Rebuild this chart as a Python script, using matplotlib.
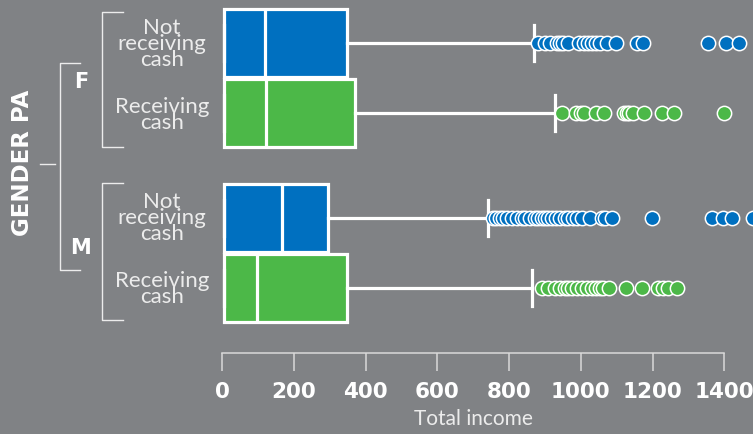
import matplotlib

matplotlib.use("Agg")

import matplotlib.pyplot as plt

# ---- data ----
group_labels = ["Not\nreceiving\ncash", "Receiving\ncash", "Not\nreceiving\ncash", "Receiving\ncash"]
gender_labels = ["F", "M"]
positions = [0, 1, 2.5, 3.5]

q1 = [5, 5, 5, 5]
medians = [120, 122, 166, 98]
q3 = [347, 371, 296, 348]
whisker_hi = [870, 928, 740, 865]

fliers_f_not = [882, 900, 914, 933, 942, 949, 965, 995, 1008, 1020, 1030, 1042,
                1053, 1074, 1098, 1156, 1172, 1355, 1406, 1441]
fliers_f_rec = [947, 988, 1000, 1010, 1042, 1065, 1120, 1128, 1135, 1146, 1176,
                1225, 1260, 1399]
fliers_m_not = [756, 765, 774, 783, 793, 807, 821, 835, 844, 858, 872, 881, 891,
                900, 909, 919, 931, 942, 956, 965, 979, 989, 1003, 1026, 1058,
                1067, 1086, 1198, 1365, 1397, 1421, 1481]
fliers_m_rec = [891, 909, 928, 942, 956, 965, 975, 989, 1003, 1017, 1030, 1042,
                1053, 1062, 1079, 1126, 1170, 1216, 1230, 1244, 1267]
fliers = [fliers_f_not, fliers_f_rec, fliers_m_not, fliers_m_rec]

x_ticks = [0, 200, 400, 600, 800, 1000, 1200, 1400]

# ---- style ----
BG = "#808285"
BLUE = "#0070c0"
GREEN = "#4cb848"
WHITE = "#ffffff"
LIGHT = "#ececec"
box_colors = [BLUE, GREEN, BLUE, GREEN]

W, H = 753, 434
fig = plt.figure(figsize=(W / 100, H / 100), dpi=100, facecolor=BG)

# main axes: x = 222px + 0.3588 px/unit, axis line at y=352.7px
px_per_unit = 0.3588
x0 = 222
xmin = -x0 / px_per_unit
xmax = (W - x0) / px_per_unit
axis_y = 352.7
ax = fig.add_axes([0, (H - axis_y) / H, 1, axis_y / H])
ax.set_facecolor("none")
ax.set_xlim(xmin, xmax)
row_px = 70.0
top_px = 43.0
ax.set_ylim((axis_y - top_px) / row_px, -top_px / row_px)

stats = []
for i in range(len(positions)):
    stats.append(dict(med=medians[i], q1=q1[i], q3=q3[i], whislo=q1[i],
                      whishi=whisker_hi[i], fliers=fliers[i]))

res = ax.bxp(
    stats,
    positions=positions,
    widths=0.985,
    orientation="horizontal",
    patch_artist=True,
    showfliers=True,
    capwidths=0.52,
    boxprops=dict(edgecolor=WHITE, linewidth=2.3),
    medianprops=dict(color=WHITE, linewidth=2.3),
    whiskerprops=dict(color=WHITE, linewidth=2.3),
    capprops=dict(color=WHITE, linewidth=2.3),
    flierprops=dict(marker="o", markersize=10.3, markeredgecolor=WHITE,
                    markeredgewidth=1.1),
)
for patch, color in zip(res["boxes"], box_colors):
    patch.set_facecolor(color)
for fl, color in zip(res["fliers"], box_colors):
    fl.set_markerfacecolor(color)
    fl.set_clip_on(False)

for side in ("top", "left", "right"):
    ax.spines[side].set_visible(False)
ax.spines["bottom"].set_color("#d9d9d9")
ax.spines["bottom"].set_linewidth(1.1)
ax.spines["bottom"].set_bounds(0, 1400)
ax.set_yticks([])
ax.set_xticks(x_ticks)
ax.set_xticklabels([str(t) for t in x_ticks])
ax.tick_params(axis="x", direction="out", length=13, width=1.1, color="#d9d9d9",
               pad=8, labelsize=15.5, labelcolor=WHITE)
for lbl in ax.get_xticklabels():
    lbl.set_fontweight("heavy")
ax.set_xlabel("Total income", color=LIGHT, fontsize=15, family="Lato")
ax.xaxis.set_label_coords((700 - xmin) / (xmax - xmin), (axis_y - 409) / axis_y)

# ---- left-hand hierarchy annotations (pixel coordinates) ----
ov = fig.add_axes([0, 0, 1, 1])
ov.set_xlim(0, W)
ov.set_ylim(H, 0)
ov.axis("off")
ov.set_facecolor("none")

row_centers = [44, 115, 218, 289]
for y, txt in zip(row_centers, group_labels):
    ov.text(162, y, txt, ha="center", va="center", color=LIGHT, fontsize=16,
            family="Lato", linespacing=0.78)

line_kw = dict(color=LIGHT, linewidth=1.0)
for top, bot in ((11.7, 146.7), (182.7, 320)):
    ov.plot([123, 101.7, 101.7, 123], [top, top, bot, bot], **line_kw)
ov.plot([80, 60, 60, 80], [63.3, 63.3, 270, 270], **line_kw)
ov.plot([40, 55], [164, 164], **line_kw)

ov.text(81, 82, gender_labels[0], ha="center", va="center", color=WHITE,
        fontsize=15, fontweight="heavy")
ov.text(81, 248, gender_labels[1], ha="center", va="center", color=WHITE,
        fontsize=15, fontweight="heavy")
ov.text(23, 163, "GENDER PA", ha="center", va="center", rotation=90,
        color=WHITE, fontsize=16.5, fontweight="heavy")

fig.savefig("out.png", dpi=100, facecolor=BG)
